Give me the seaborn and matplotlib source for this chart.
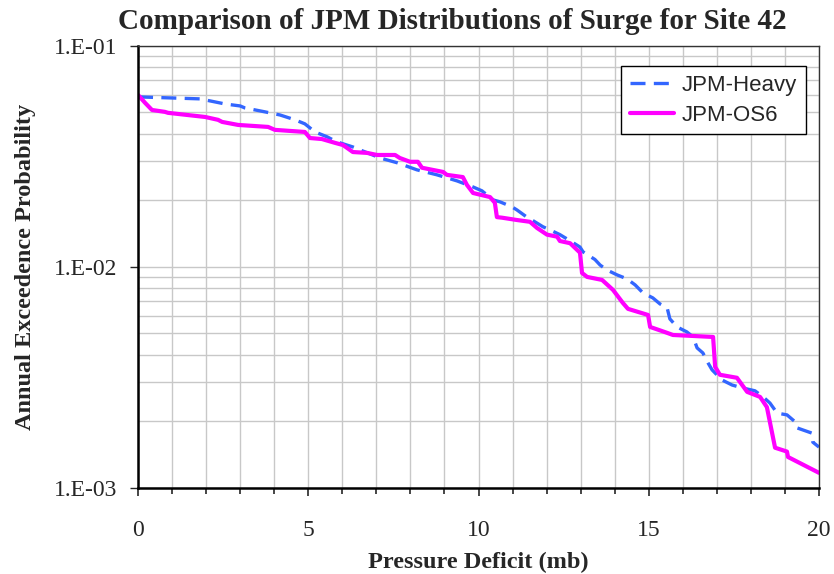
import numpy as np
import pandas as pd
import matplotlib
matplotlib.use('Agg')
import matplotlib.pyplot as plt
import matplotlib.ticker as mticker
import seaborn as sns

# Exceedance curves
heavy_x = [0.0, 1.82, 2.26, 2.56, 3.0, 3.14, 3.73, 4.17, 4.61, 4.9, 5.2, 5.55, 5.84, 6.31,
           7.11, 7.61, 8.19, 8.78, 9.37, 9.84, 10.1, 10.43, 10.63, 10.98, 11.13, 11.42,
           11.57, 11.89, 12.1, 12.39, 12.63, 12.98, 13.07, 13.42, 13.57, 13.77, 14.07,
           14.36, 14.6, 14.83, 15.12, 15.33, 15.54, 15.62, 15.83, 16.12, 16.3, 16.42,
           16.59, 16.74, 16.86, 17.15, 17.45, 17.77, 18.12, 18.36, 18.56, 18.77, 19.06,
           19.3, 19.35, 19.79, 19.82, 20.0]
heavy_p = [0.0588, 0.0576, 0.0558, 0.0546, 0.0535, 0.0524, 0.0503, 0.0487, 0.0463, 0.0444,
           0.0408, 0.0388, 0.0368, 0.0349, 0.0311, 0.0296, 0.0275, 0.0261, 0.0245, 0.0230,
           0.0221, 0.0201, 0.0197, 0.0187, 0.0181, 0.0168, 0.0163, 0.0152, 0.0147, 0.0140,
           0.0133, 0.0123, 0.0117, 0.0108, 0.0102, 0.00969, 0.00920, 0.00883, 0.00829,
           0.00763, 0.00724, 0.00680, 0.00653, 0.00582, 0.00535, 0.00508, 0.00482, 0.00430,
           0.00408, 0.00368, 0.00342, 0.00308, 0.00292, 0.00283, 0.00275, 0.00258, 0.00242,
           0.00218, 0.00214, 0.00199, 0.00187, 0.00177, 0.00161, 0.00153]

os6_x = [0.0, 0.21, 0.41, 0.79, 0.88, 1.97, 2.35, 2.47, 2.94, 3.82, 4.02, 4.9, 5.05, 5.4,
         5.79, 6.02, 6.31, 6.73, 7.02, 7.55, 7.69, 7.99, 8.22, 8.34, 8.96, 9.07, 9.54, 9.66,
         9.84, 10.34, 10.48, 10.54, 10.69, 11.13, 11.51, 11.72, 12.01, 12.31, 12.39, 12.69,
         12.98, 13.04, 13.19, 13.63, 13.95, 14.24, 14.39, 14.98, 15.04, 15.54, 15.71, 16.89,
         16.95, 17.09, 17.59, 17.89, 18.27, 18.47, 18.71, 19.06, 19.09, 20.0]
os6_p = [0.0600, 0.0552, 0.0513, 0.0503, 0.0498, 0.0477, 0.0463, 0.0453, 0.0439, 0.0430,
         0.0417, 0.0408, 0.0383, 0.0379, 0.0364, 0.0356, 0.0331, 0.0328, 0.0321, 0.0321,
         0.0311, 0.0299, 0.0299, 0.0281, 0.0269, 0.0261, 0.0255, 0.0235, 0.0216, 0.0207,
         0.0195, 0.0168, 0.0167, 0.0163, 0.0160, 0.0150, 0.0140, 0.0137, 0.0131, 0.0128,
         0.0116, 0.00939, 0.00901, 0.00873, 0.00787, 0.00687, 0.00646, 0.00606, 0.00535,
         0.00503, 0.00492, 0.00482, 0.00353, 0.00325, 0.00315, 0.00272, 0.00258, 0.00232,
         0.00152, 0.00146, 0.00138, 0.00117]

sns.set_style('white')
plt.rcParams['font.family'] = ['Liberation Serif', 'DejaVu Serif']

heavy = pd.DataFrame({'x': heavy_x, 'p': heavy_p})
os6 = pd.DataFrame({'x': os6_x, 'p': os6_p})

fig = plt.figure(figsize=(8.34, 5.74), dpi=100)
ax = fig.add_axes([0.1655, 0.150, 0.8165, 0.770])

sns.lineplot(data=heavy, x='x', y='p', ax=ax, color='#3366ff', linewidth=2.4,
             label='JPM-Heavy', sort=False)
ax.lines[-1].set_dashes([4.5, 2.5])
sns.lineplot(data=os6, x='x', y='p', ax=ax, color='#ff00ff', linewidth=3.0,
             label='JPM-OS6', sort=False)

ax.set_yscale('log')
ax.set_xlim(0, 20)
ax.set_ylim(1e-3, 1e-1)

ax.xaxis.set_major_locator(mticker.MultipleLocator(5))
ax.xaxis.set_minor_locator(mticker.MultipleLocator(1))
ax.yaxis.set_major_locator(mticker.LogLocator(base=10))
ax.yaxis.set_minor_locator(mticker.LogLocator(base=10, subs=np.arange(2, 10)))
ax.yaxis.set_minor_formatter(mticker.NullFormatter())
ax.yaxis.set_major_formatter(mticker.FuncFormatter(lambda v, _: '1.E-%02d' % round(-np.log10(v))))

ax.grid(True, which='both', axis='both', color='#c8c8c8', linewidth=1.0)
ax.set_axisbelow(True)
ax.tick_params(axis='x', which='major', direction='out', length=6, width=1.2,
               labelsize=17, pad=17, bottom=True)
ax.tick_params(axis='x', which='minor', direction='out', length=4, width=1.2, bottom=True)
ax.tick_params(axis='y', which='major', direction='out', length=6, width=1.0,
               labelsize=17, left=True, pad=9)
ax.tick_params(axis='y', which='minor', left=False)

for side in ['left', 'bottom']:
    ax.spines[side].set_linewidth(1.8)
    ax.spines[side].set_color('black')
for side in ['top', 'right']:
    ax.spines[side].set_linewidth(1.0)
    ax.spines[side].set_color('#333333')

ax.set_title('Comparison of JPM Distributions of Surge for Site 42',
             fontsize=21, fontweight='bold', pad=12, x=0.461)
ax.set_xlabel('Pressure Deficit (mb)', fontsize=17.5, fontweight='bold', labelpad=8)
ax.set_ylabel('Annual Exceedence Probability', fontsize=17.5, fontweight='bold', labelpad=13)

leg = ax.legend(loc='upper right', bbox_to_anchor=(0.981, 0.955), frameon=True,
                fancybox=False, edgecolor='black', framealpha=1,
                prop={'family': 'Liberation Sans', 'size': 16},
                handlelength=2.0, borderpad=0.4, labelspacing=0.4, handletextpad=0.35,
                borderaxespad=0)
leg.get_frame().set_linewidth(1.0)

fig.savefig('out.png', dpi=100)
